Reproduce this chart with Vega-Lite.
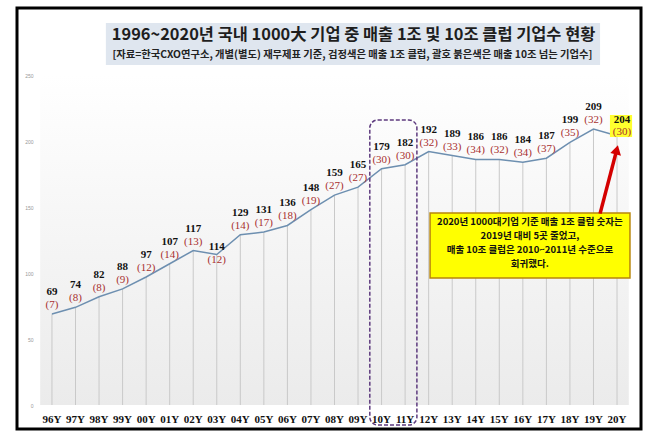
{
  "$schema": "https://vega.github.io/schema/vega-lite/v6.json",
  "width": 624,
  "height": 421,
  "autosize": {"type": "none"},
  "padding": {"left": 17, "top": 8, "right": 17, "bottom": 16},
  "background": "white",
  "config": {"view": {"fill": "white", "stroke": "#000000", "strokeWidth": 3}},
  "data": {"values": [
    {"year": "96Y", "total": 69, "club10": "(7)"},
    {"year": "97Y", "total": 74, "club10": "(8)"},
    {"year": "98Y", "total": 82, "club10": "(8)"},
    {"year": "99Y", "total": 88, "club10": "(9)"},
    {"year": "00Y", "total": 97, "club10": "(12)"},
    {"year": "01Y", "total": 107, "club10": "(14)"},
    {"year": "02Y", "total": 117, "club10": "(13)"},
    {"year": "03Y", "total": 114, "club10": "(12)"},
    {"year": "04Y", "total": 129, "club10": "(14)"},
    {"year": "05Y", "total": 131, "club10": "(17)"},
    {"year": "06Y", "total": 136, "club10": "(18)"},
    {"year": "07Y", "total": 148, "club10": "(19)"},
    {"year": "08Y", "total": 159, "club10": "(27)"},
    {"year": "09Y", "total": 165, "club10": "(27)"},
    {"year": "10Y", "total": 179, "club10": "(30)"},
    {"year": "11Y", "total": 182, "club10": "(30)"},
    {"year": "12Y", "total": 192, "club10": "(32)"},
    {"year": "13Y", "total": 189, "club10": "(33)"},
    {"year": "14Y", "total": 186, "club10": "(34)"},
    {"year": "15Y", "total": 186, "club10": "(32)"},
    {"year": "16Y", "total": 184, "club10": "(34)"},
    {"year": "17Y", "total": 187, "club10": "(37)"},
    {"year": "18Y", "total": 199, "club10": "(35)"},
    {"year": "19Y", "total": 209, "club10": "(32)"},
    {"year": "20Y", "total": 204, "club10": "(30)"}
  ]},
  "layer": [
    {
      "mark": {"type": "rule", "color": "#c9c9c9", "strokeWidth": 1, "opacity": 0},
      "encoding": {
        "x": {"field": "year", "type": "ordinal",
          "scale": {"type": "band", "domain": ["96Y","97Y","98Y","99Y","00Y","01Y","02Y","03Y","04Y","05Y","06Y","07Y","08Y","09Y","10Y","11Y","12Y","13Y","14Y","15Y","16Y","17Y","18Y","19Y","20Y"], "paddingInner": 0, "paddingOuter": 0.7517, "align": 0.655},
          "axis": {"title": null, "bandPosition": 0.5, "domain": false, "ticks": false, "tickSize": 0, "labelAngle": 0, "labelPadding": 8, "offset": -24, "labelFont": "Liberation Serif", "labelFontWeight": "bold", "labelFontSize": 11, "labelColor": "#111111"}},
        "y": {"field": "total", "type": "quantitative",
          "scale": {"domain": [-18.18, 300.76], "nice": false, "zero": false},
          "axis": {"title": null, "values": [0, 50, 100, 150, 200, 250], "domain": false, "ticks": false, "tickSize": 0, "grid": false, "offset": -18, "labelPadding": 2, "labelFontSize": 5, "labelColor": "#999999", "labelFont": "Liberation Sans"}}
      }
    },
    {
      "data": {"values": [{}]},
      "mark": {"type": "rect", "fill": {"gradient": "linear", "x1": 0, "y1": 0, "x2": 0, "y2": 1, "stops": [{"offset": 0, "color": "#ffffff"}, {"offset": 1, "color": "#ebebeb"}]}},
      "encoding": {
        "x": {"datum": "96Y", "type": "ordinal", "bandPosition": 0},
        "x2": {"datum": "20Y", "bandPosition": 1},
        "y": {"datum": 250, "type": "quantitative"},
        "y2": {"datum": 0}
      }
    },
    {
      "mark": {"type": "rule", "color": "#c9c9c9", "strokeWidth": 1},
      "encoding": {
        "x": {"field": "year", "type": "ordinal"},
        "y": {"field": "total", "type": "quantitative"},
        "y2": {"datum": 0}
      }
    },
    {
      "mark": {"type": "line", "color": "#6d8fb0", "strokeWidth": 1.5},
      "encoding": {
        "x": {"field": "year", "type": "ordinal"},
        "y": {"field": "total", "type": "quantitative"}
      }
    },
    {
      "data": {"values": [{}]},
      "mark": {"type": "rect", "fill": "#dfe6ef"},
      "encoding": {
        "x": {"datum": "98Y", "type": "ordinal", "bandPosition": 0.79},
        "x2": {"datum": "19Y", "bandPosition": 0.78},
        "y": {"datum": 289.4, "type": "quantitative"},
        "y2": {"datum": 257.6}
      }
    },
    {
      "data": {"values": [{}]},
      "mark": {"type": "text", "font": "Noto Sans CJK KR", "fontWeight": "bold", "fontSize": 16.4, "color": "#1e1e1e", "align": "center", "baseline": "middle"},
      "encoding": {
        "x": {"datum": "09Y", "type": "ordinal", "bandPosition": 0.31},
        "y": {"datum": 280.3, "type": "quantitative"},
        "text": {"value": "1996~2020년 국내 1000大 기업 중 매출 1조 및 10조 클럽 기업수 현황"}
      }
    },
    {
      "data": {"values": [{}]},
      "mark": {"type": "text", "font": "Noto Sans CJK KR", "fontWeight": "bold", "fontSize": 10.3, "color": "#222222", "align": "center", "baseline": "middle"},
      "encoding": {
        "x": {"datum": "09Y", "type": "ordinal", "bandPosition": 0.26},
        "y": {"datum": 265.2, "type": "quantitative"},
        "text": {"value": "[자료=한국CXO연구소, 개별(별도) 재무제표 기준, 검정색은 매출 1조 클럽, 괄호 붉은색은 매출 10조 넘는 기업수]"}
      }
    },
    {
      "data": {"values": [{}]},
      "mark": {"type": "rect", "fill": null, "filled": false, "stroke": "#5d3a7e", "strokeWidth": 1.5, "strokeDash": [4, 2], "cornerRadius": 8},
      "encoding": {
        "x": {"datum": "10Y", "type": "ordinal", "bandPosition": 0},
        "x2": {"datum": "11Y", "bandPosition": 1},
        "y": {"datum": 215.9, "type": "quantitative"},
        "y2": {"datum": -15.2}
      }
    },
    {
      "transform": [{"filter": {"not": {"field": "year", "oneOf": ["03Y", "20Y"]}}}],
      "mark": {"type": "text", "font": "Liberation Serif", "fontWeight": "bold", "fontSize": 11, "color": "#111111", "dy": -22},
      "encoding": {
        "x": {"field": "year", "type": "ordinal"},
        "y": {"field": "total", "type": "quantitative"},
        "text": {"field": "total"}
      }
    },
    {
      "transform": [{"filter": {"not": {"field": "year", "oneOf": ["03Y", "20Y"]}}}],
      "mark": {"type": "text", "font": "Liberation Serif", "fontSize": 11, "color": "#a8302f", "dy": -9},
      "encoding": {
        "x": {"field": "year", "type": "ordinal"},
        "y": {"field": "total", "type": "quantitative"},
        "text": {"field": "club10"}
      }
    },
    {
      "transform": [{"filter": {"field": "year", "equal": "03Y"}}],
      "mark": {"type": "text", "font": "Liberation Serif", "fontWeight": "bold", "fontSize": 11, "color": "#111111", "dy": -8},
      "encoding": {
        "x": {"field": "year", "type": "ordinal"},
        "y": {"field": "total", "type": "quantitative"},
        "text": {"field": "total"}
      }
    },
    {
      "transform": [{"filter": {"field": "year", "equal": "03Y"}}],
      "mark": {"type": "text", "font": "Liberation Serif", "fontSize": 11, "color": "#a8302f", "dy": 5},
      "encoding": {
        "x": {"field": "year", "type": "ordinal"},
        "y": {"field": "total", "type": "quantitative"},
        "text": {"field": "club10"}
      }
    },
    {
      "data": {"values": [{}]},
      "mark": {"type": "rect", "fill": "#ffff2e"},
      "encoding": {
        "x": {"datum": "20Y", "type": "ordinal", "bandPosition": 0.2},
        "x2": {"datum": "20Y", "bandPosition": 1.14},
        "y": {"datum": 219.7, "type": "quantitative"},
        "y2": {"datum": 203}
      }
    },
    {
      "transform": [{"filter": {"field": "year", "equal": "20Y"}}],
      "mark": {"type": "text", "font": "Liberation Serif", "fontWeight": "bold", "fontSize": 11, "color": "#111111", "dy": -16, "dx": 5},
      "encoding": {
        "x": {"field": "year", "type": "ordinal"},
        "y": {"field": "total", "type": "quantitative"},
        "text": {"field": "total"}
      }
    },
    {
      "transform": [{"filter": {"field": "year", "equal": "20Y"}}],
      "mark": {"type": "text", "font": "Liberation Serif", "fontSize": 11, "color": "#a8302f", "dy": -4, "dx": 5},
      "encoding": {
        "x": {"field": "year", "type": "ordinal"},
        "y": {"field": "total", "type": "quantitative"},
        "text": {"field": "club10"}
      }
    },
    {
      "data": {"values": [{}]},
      "mark": {"type": "rect", "fill": "#ffff00", "stroke": "#b8860b", "strokeWidth": 1.5},
      "encoding": {
        "x": {"datum": "12Y", "type": "ordinal", "bandPosition": 0.56},
        "x2": {"datum": "20Y", "bandPosition": 1.05},
        "y": {"datum": 145.5, "type": "quantitative"},
        "y2": {"datum": 96.2}
      }
    },
    {
      "data": {"values": [{}]},
      "mark": {"type": "text", "font": "Noto Sans CJK KR", "fontWeight": "bold", "fontSize": 9.5, "lineHeight": 14, "color": "#111111", "align": "center", "baseline": "middle"},
      "encoding": {
        "x": {"datum": "16Y", "type": "ordinal", "bandPosition": 0.8},
        "y": {"datum": 138.6, "type": "quantitative"},
        "text": {"value": ["2020년 1000대기업 기준 매출 1조 클럽 숫자는", "2019년 대비 5곳 줄었고,", "매출 10조 클럽은 2010~2011년 수준으로", "회귀했다."]}
      }
    },
    {
      "data": {"values": [{}]},
      "mark": {"type": "rule", "color": "#d40000", "strokeWidth": 3.5},
      "encoding": {
        "x": {"datum": "19Y", "type": "ordinal", "bandPosition": 0.78},
        "x2": {"datum": "20Y", "bandPosition": 0.47},
        "y": {"datum": 145, "type": "quantitative"},
        "y2": {"datum": 192}
      }
    },
    {
      "data": {"values": [{}]},
      "mark": {"type": "point", "shape": "triangle-up", "filled": true, "size": 120, "angle": 14, "color": "#d40000", "opacity": 1},
      "encoding": {
        "x": {"datum": "20Y", "type": "ordinal", "bandPosition": 0.49},
        "y": {"datum": 193.3, "type": "quantitative"}
      }
    }
  ]
}
